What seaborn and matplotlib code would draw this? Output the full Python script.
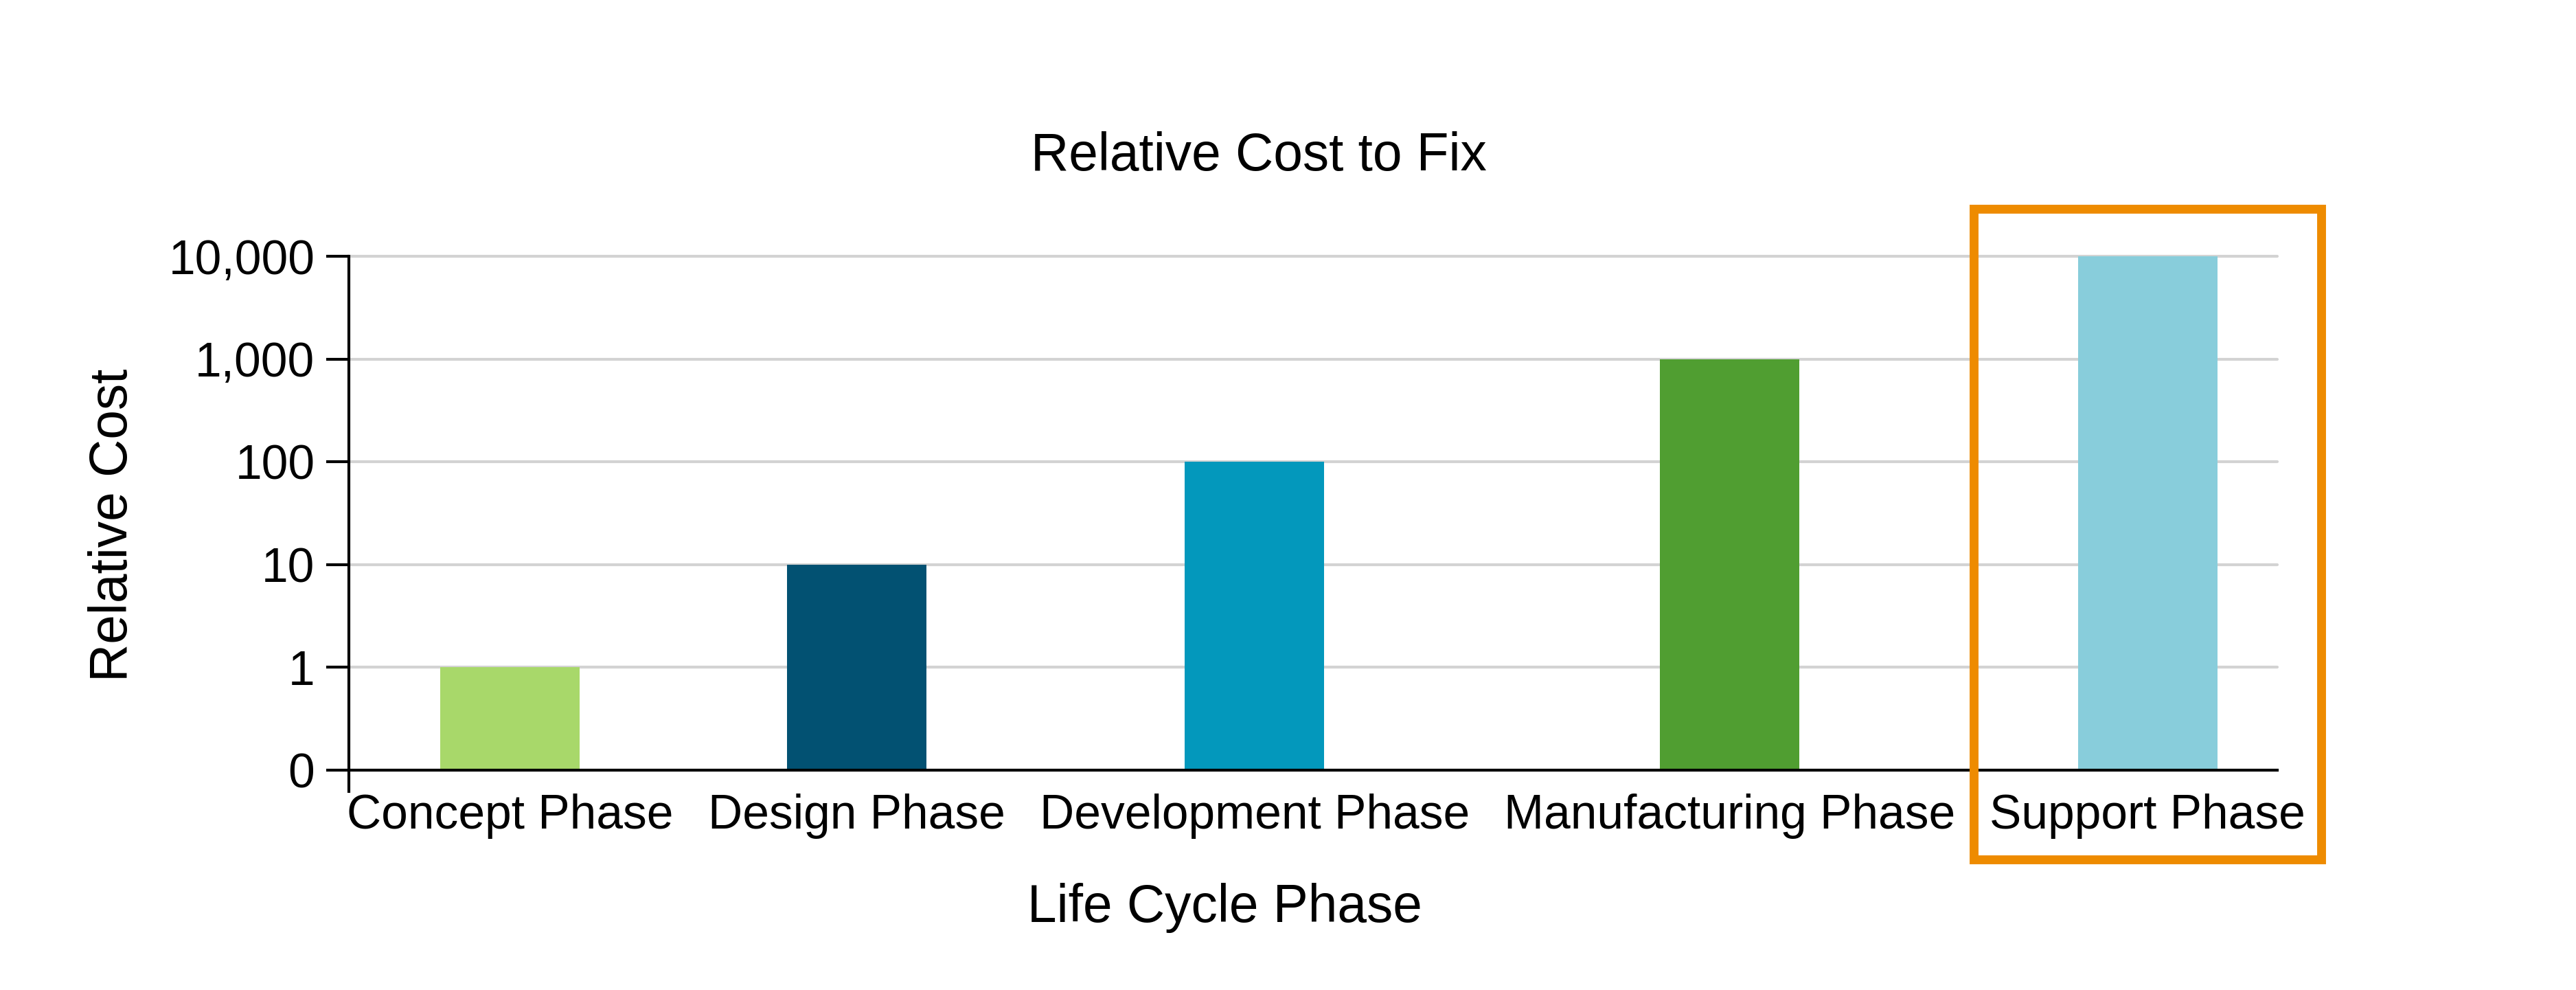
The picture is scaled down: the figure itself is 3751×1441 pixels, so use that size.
import numpy as np
import pandas as pd
import seaborn as sns
import matplotlib.pyplot as plt
from matplotlib.patches import Rectangle
from matplotlib.ticker import NullLocator

# Data
phases = ['Concept Phase', 'Design Phase', 'Development Phase',
          'Manufacturing Phase', 'Support Phase']
relative_cost = [1, 10, 100, 1000, 10000]
bar_colors = ['#A8D86A', '#025172', '#0398BC', '#509E31', '#88CDDB']
y_ticks = [0, 1, 10, 100, 1000, 10000]
y_tick_labels = ['0', '1', '10', '100', '1,000', '10,000']

W, H, DPI = 3751, 1441, 300
TICK_FS = 16.7
LABEL_FS = 18.4

sns.set_theme(style='white')
plt.rcParams['font.family'] = ['Liberation Sans', 'DejaVu Sans']

fig = plt.figure(figsize=(W / DPI, H / DPI), dpi=DPI)
# plot area in pixels: x 508..3316, y 373..1121 (from top)
ax_l, ax_r, ax_t, ax_b = 508, 3316, 373, 1121
ax = fig.add_axes([ax_l / W, (H - ax_b) / H, (ax_r - ax_l) / W, (ax_b - ax_t) / H])

# the category slots follow the width of their labels (packed labels, even gaps)
renderer = fig.canvas.get_renderer()
widths = []
for p in phases:
    t = fig.text(0, 0, p, fontsize=TICK_FS)
    widths.append(t.get_window_extent(renderer).width)
    t.remove()
widths = np.array(widths)
span_left, span_right = 505, 3357
gap = (span_right - span_left - widths.sum()) / (len(phases) - 1)
starts = span_left + np.concatenate([[0], np.cumsum(widths[:-1] + gap)])
x_pos = (starts + widths / 2 - ax_l) / (ax_r - ax_l)

df = pd.DataFrame({'phase': phases, 'cost': relative_cost, 'x': x_pos})

bar_frac = 203 / (ax_r - ax_l)
sns.barplot(data=df, x='x', y='cost', hue='phase', palette=bar_colors,
            native_scale=True, width=bar_frac / np.diff(x_pos).min(),
            dodge=False, saturation=1, errorbar=None, legend=False,
            linewidth=0, ax=ax)


# 0, 1, 10, 100 ... evenly spaced
def fwd(v):
    v = np.asarray(v, dtype=float)
    return np.where(v < 1, v, np.log10(np.maximum(v, 1)) + 1)


def inv(u):
    u = np.asarray(u, dtype=float)
    return np.where(u < 1, u, 10 ** (np.maximum(u, 1) - 1))


ax.set_yscale('function', functions=(fwd, inv))
ax.set_ylim(0, 10000)
ax.set_yticks(y_ticks, labels=y_tick_labels)
ax.yaxis.set_minor_locator(NullLocator())
ax.set_xlim(0, 1)
ax.set_xticks(x_pos, labels=phases)
ax.set_xticks([0], minor=True)

ax.tick_params(axis='y', which='major', left=True, length=7.9, width=1,
               color='black', direction='out', labelsize=TICK_FS, pad=4.0,
               labelcolor='black')
ax.tick_params(axis='x', which='major', bottom=True, length=0, labelsize=TICK_FS,
               pad=8.2, labelcolor='black')
ax.tick_params(axis='x', which='minor', bottom=True, length=7.9, width=1,
               color='black', direction='out')

ax.yaxis.grid(True, color='#d3d3d3', lw=1.0)
ax.xaxis.grid(False)
ax.set_axisbelow(True)
for line in ax.get_ygridlines():
    line.set_clip_on(False)

sns.despine(ax=ax)
for side in ['left', 'bottom']:
    ax.spines[side].set_color('black')
    ax.spines[side].set_linewidth(1.0)

ax.set_title('Relative Cost to Fix', fontsize=LABEL_FS, color='black',
             x=(1833 - ax_l) / (ax_r - ax_l), y=(ax_b - 273) / (ax_b - ax_t),
             va='baseline')
ax.set_xlabel('Life Cycle Phase', fontsize=LABEL_FS, color='black', va='baseline')
ax.xaxis.set_label_coords((1783 - ax_l) / (ax_r - ax_l), (ax_b - 1342) / (ax_b - ax_t))
ax.set_ylabel('Relative Cost', fontsize=LABEL_FS, color='black', va='baseline')
ax.yaxis.set_label_coords((185 - ax_l) / (ax_r - ax_l), (ax_b - 764) / (ax_b - ax_t))

# orange highlight around the last phase
fig.canvas.draw()
renderer = fig.canvas.get_renderer()
lab = ax.get_xticklabels()[-1].get_window_extent(renderer)
box = ax.get_window_extent(renderer)
x0, x1 = lab.x0 - 23, lab.x1 + 23
y0, y1 = lab.y0 - 30, box.y1 + 69
fig.add_artist(Rectangle((x0 / W, y0 / H), (x1 - x0) / W, (y1 - y0) / H,
                         transform=fig.transFigure, fill=False,
                         edgecolor='#EE8B00', linewidth=3.1))

fig.savefig('out.png', dpi=DPI)
